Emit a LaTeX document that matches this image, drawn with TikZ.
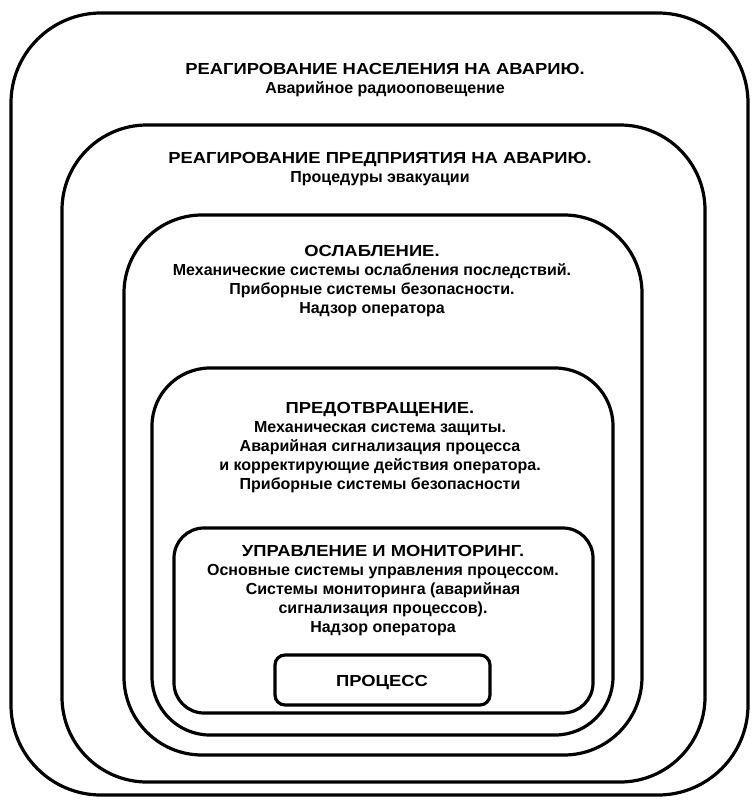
\documentclass[tikz,border=0pt]{standalone}
\usepackage{fontspec}
\setmainfont{Liberation Sans}
\newfontfamily\hdrfont{Liberation Sans}[FakeStretch=1.15]
\begin{document}
\begin{tikzpicture}[x=1pt,y=-1pt,
  layer/.style={draw, line width=3.2pt, rounded corners=#1},
  txt/.style={align=center, inner sep=0pt, anchor=base, font=\bfseries\fontsize{16}{19}\selectfont}]
\useasboundingbox (0,0) rectangle (752,800);
\draw[layer=90] (11,13) rectangle (748,795);
\draw[layer=85] (62,125) rectangle (705,782);
\draw[layer=78] (124,215) rectangle (642,755);
\draw[layer=58] (152,368) rectangle (613,735);
\draw[layer=30] (174,528) rectangle (593,713);
\draw[layer=10] (275,655) rectangle (490,705);
\node[txt] (t1) at (385,93) {{\hdrfont РЕАГИРОВАНИЕ НАСЕЛЕНИЯ НА АВАРИЮ.}\\Аварийное радиооповещение};
\node[txt] (t2) at (380,182) {{\hdrfont РЕАГИРОВАНИЕ ПРЕДПРИЯТИЯ НА АВАРИЮ.}\\Процедуры эвакуации};
\node[txt] (t3) at (372,313) {{\hdrfont ОСЛАБЛЕНИЕ.}\\Механические системы ослабления последствий.\\Приборные системы безопасности.\\Надзор оператора};
\node[txt] (t4) at (380,489) {{\hdrfont ПРЕДОТВРАЩЕНИЕ.}\\Механическая система защиты.\\Аварийная сигнализация процесса\\и корректирующие действия оператора.\\Приборные системы безопасности};
\node[txt] (t5) at (383,632) {{\hdrfont УПРАВЛЕНИЕ И МОНИТОРИНГ.}\\Основные системы управления процессом.\\Системы мониторинга (аварийная\\сигнализация процессов).\\Надзор оператора};
\node[txt] (t6) at (382,686) {\hdrfont ПРОЦЕСС};
\end{tikzpicture}
\end{document}
